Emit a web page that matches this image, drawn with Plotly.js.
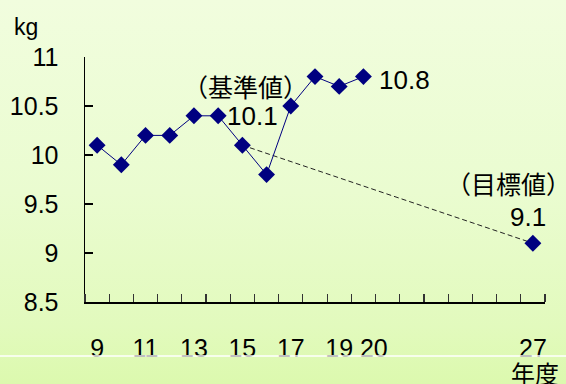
<!DOCTYPE html>
<html>
<head>
<meta charset="utf-8">
<script src="https://cdn.plot.ly/plotly-3.0.1.min.js"></script>
<style>
  html, body { margin: 0; padding: 0; }
  body {
    width: 566px; height: 384px; overflow: hidden;
    background: linear-gradient(to bottom, #f1fdde 0%, #eafcd0 50%, #e2fabd 85%, #dcf9ae 100%);
  }
  #chart { width: 566px; height: 384px; }
</style>
</head>
<body>
<div id="chart"></div>
<script>
// Yearly values (kg) for fiscal years 9–20
const years = [9, 10, 11, 12, 13, 14, 15, 16, 17, 18, 19, 20];
const weights = [10.1, 9.9, 10.2, 10.2, 10.4, 10.4, 10.1, 9.8, 10.5, 10.8, 10.7, 10.8];

// Baseline (year 15) and target (year 27)
const baseYear = 15;
const baseValue = 10.1;
const targetYear = 27;
const targetValue = 9.1;
const latestYear = 20;
const latestValue = 10.8;

// Axis labels ("20" is nudged right so it clears "19")
const xTickVals = [9, 11, 13, 15, 17, 19, 20, 27];
const xTickText = ['9', '11', '13', '15', '17', '19', '\u00a0\u00a0\u00a020', '27'];
const yTickVals = [8.5, 9, 9.5, 10, 10.5, 11];
const yTickText = ['8.5', '9', '9.5', '10', '10.5', '11'];

const firstYear = 9, lastYear = 27;
const boundaries = [];
for (let y = firstYear - 0.5; y <= lastYear + 0.5; y += 1) boundaries.push(y);

const navy = '#000080';
const numFont = "'Liberation Sans', Arial, sans-serif";
const jpFont = "'Noto Sans CJK JP', sans-serif";

const traces = [
  {
    x: [baseYear, targetYear],
    y: [baseValue, targetValue],
    mode: 'lines',
    line: { color: '#222222', width: 1, dash: '5px,3px' },
    hoverinfo: 'skip'
  },
  {
    x: years,
    y: weights,
    mode: 'lines+markers',
    line: { color: navy, width: 1 },
    marker: { symbol: 'diamond', size: 13, color: navy }
  },
  {
    x: [targetYear],
    y: [targetValue],
    mode: 'markers',
    marker: { symbol: 'diamond', size: 13, color: navy }
  }
];

const layout = {
  width: 566,
  height: 384,
  margin: { l: 85, r: 21, t: 57, b: 82 },
  paper_bgcolor: 'rgba(0,0,0,0)',
  plot_bgcolor: 'rgba(0,0,0,0)',
  showlegend: false,
  font: { family: numFont, size: 25, color: '#000000' },
  xaxis: {
    range: [firstYear - 0.5, lastYear + 0.5],
    tickvals: xTickVals,
    ticktext: xTickText,
    tickangle: 0,
    ticks: '',
    ticklabelstandoff: 23,
    showgrid: false,
    zeroline: false,
    showline: true,
    linecolor: '#000000',
    linewidth: 1.5,
    tickfont: { family: numFont, size: 25 },
    minor: { tickvals: boundaries, ticks: 'inside', ticklen: 8, tickwidth: 1.2, tickcolor: '#333333', showgrid: false }
  },
  yaxis: {
    range: [8.5, 11],
    tickvals: yTickVals,
    ticktext: yTickText,
    ticks: 'inside',
    ticklen: 8,
    tickwidth: 1.2,
    tickcolor: '#000000',
    ticklabelstandoff: 20,
    showgrid: false,
    zeroline: false,
    showline: true,
    linecolor: '#000000',
    linewidth: 1.5,
    tickfont: { family: numFont, size: 25 }
  },
  shapes: [
    {
      type: 'line', xref: 'paper', yref: 'paper',
      x0: -0.2, x1: 1.1, y0: -0.22, y1: -0.22,
      line: { color: '#ffffff', width: 1.5 }
    }
  ],
  annotations: [
    { x: 0, y: 1, xref: 'paper', yref: 'paper', xanchor: 'center', yanchor: 'middle',
      xshift: -59, yshift: 30,
      text: 'kg', showarrow: false, font: { family: numFont, size: 23 } },
    { x: 1, y: 0, xref: 'paper', yref: 'paper', xanchor: 'center', yanchor: 'middle',
      xshift: -10, yshift: -70,
      text: '年度', showarrow: false, font: { family: jpFont, size: 24 } },
    { x: baseYear, y: baseValue, xanchor: 'center', yanchor: 'middle', xshift: 3, yshift: 59,
      text: '（基準値）', showarrow: false, font: { family: jpFont, size: 25 } },
    { x: baseYear, y: baseValue, xanchor: 'center', yanchor: 'middle', xshift: 10, yshift: 29,
      text: String(baseValue), showarrow: false, font: { family: numFont, size: 26 } },
    { x: latestYear, y: latestValue, xanchor: 'left', yanchor: 'middle', xshift: 14, yshift: -3,
      text: String(latestValue), showarrow: false, font: { family: numFont, size: 26 } },
    { x: targetYear, y: targetValue, xanchor: 'center', yanchor: 'middle', xshift: -24, yshift: 60,
      text: '（目標値）', showarrow: false, font: { family: jpFont, size: 25 } },
    { x: targetYear, y: targetValue, xanchor: 'center', yanchor: 'middle', xshift: -5, yshift: 26,
      text: String(targetValue), showarrow: false, font: { family: numFont, size: 26 } }
  ]
};

Plotly.newPlot('chart', traces, layout, { staticPlot: true, displayModeBar: false });
</script>
</body>
</html>
